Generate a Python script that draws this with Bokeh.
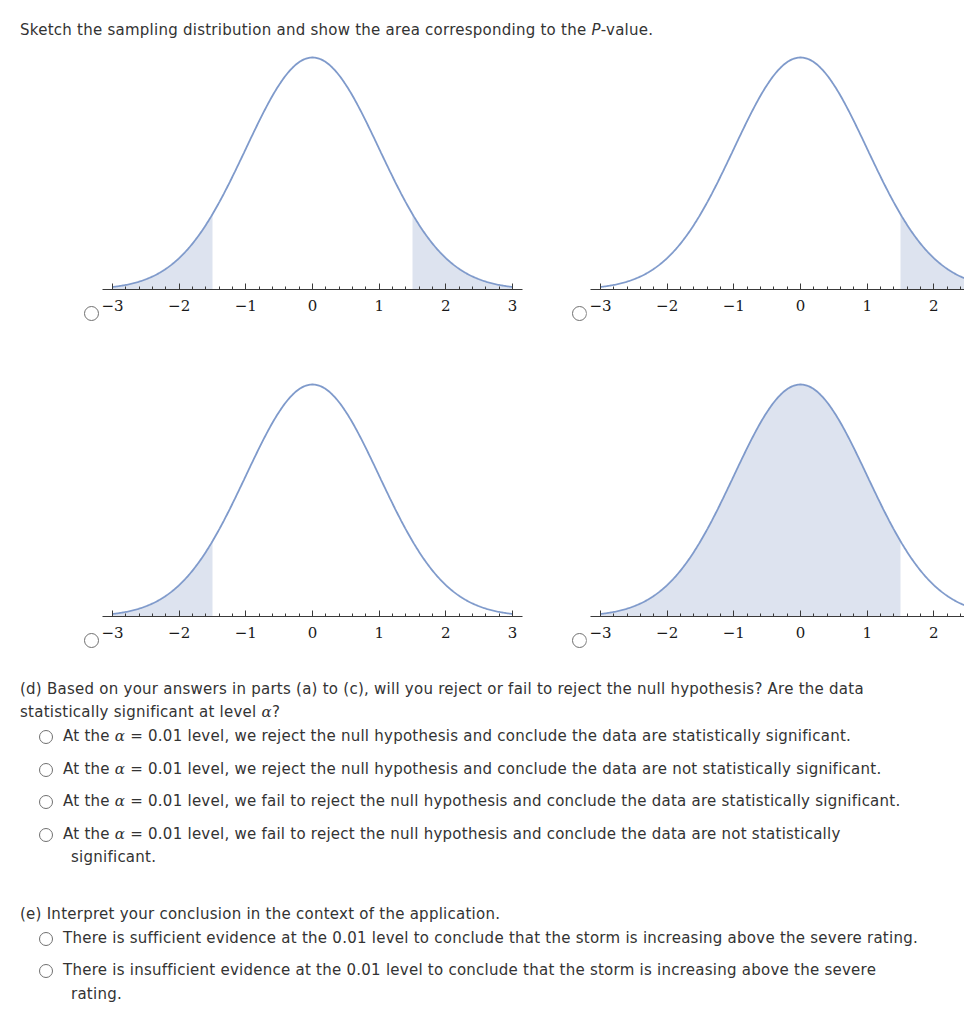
import numpy as np
from bokeh.plotting import figure
from bokeh.layouts import row, column
from bokeh.models import Div, FixedTicker, Range1d, ColumnDataSource
from bokeh.embed import file_html
from bokeh.resources import INLINE

# ---------------- data ----------------
z_stat = 1.5
tick_values = [-3, -2, -1, 0, 1, 2, 3]
tick_labels = ["\u22123", "\u22122", "\u22121", "0", "1", "2", "3"]
minor_tick_values = [-3.0, -2.8, -2.6, -2.4, -2.2, -2.0, -1.8, -1.6, -1.4, -1.2,
                     -1.0, -0.8, -0.6, -0.4, -0.2, 0.0, 0.2, 0.4, 0.6, 0.8,
                     1.0, 1.2, 1.4, 1.6, 1.8, 2.0, 2.2, 2.4, 2.6, 2.8, 3.0]
curve_lo, curve_hi = -3.0, 3.0
# shaded regions (start, end) for the four answer choices
shade_a = [(-3.0, -z_stat), (z_stat, 3.0)]
shade_b = [(z_stat, 3.0)]
shade_c = [(-3.0, -z_stat)]
shade_d = [(-3.0, z_stat)]

header_text = "Sketch the sampling distribution and show the area corresponding to the <i>P</i>-value."
ALPHA = "<i style=\"font-family:'DejaVu Serif';\">\u03b1</i>"
d_lines = ["(d) Based on your answers in parts (a) to (c), will you reject or fail to reject the null hypothesis? Are the data",
           "statistically significant at level " + ALPHA + "?"]
d_options = [
    ["At the " + ALPHA + " = 0.01 level, we reject the null hypothesis and conclude the data are statistically significant."],
    ["At the " + ALPHA + " = 0.01 level, we reject the null hypothesis and conclude the data are not statistically significant."],
    ["At the " + ALPHA + " = 0.01 level, we fail to reject the null hypothesis and conclude the data are statistically significant."],
    ["At the " + ALPHA + " = 0.01 level, we fail to reject the null hypothesis and conclude the data are not statistically",
     "significant."],
]
e_lines = ["(e) Interpret your conclusion in the context of the application."]
e_options = [
    ["There is sufficient evidence at the 0.01 level to conclude that the storm is increasing above the severe rating."],
    ["There is insufficient evidence at the 0.01 level to conclude that the storm is increasing above the severe",
     "rating."],
]

# ---------------- styles ----------------
CURVE = "#7f9acb"
SHADE = "#dde3ef"
AXIS = "#3a3a3a"
TEXT = "#333333"
FONT = "'DejaVu Sans', Verdana, sans-serif"
FS = "15px"
LS = "0.25px"
FRAME_H = 239
BOTTOM = 45
Y_TOP = 0.411


def norm_pdf(x):
    return np.exp(-0.5 * x * x) / np.sqrt(2 * np.pi)


def panel(x_start, x_end, width, top_border, shades):
    p = figure(width=width, height=top_border + FRAME_H + BOTTOM,
               x_range=Range1d(x_start, x_end), y_range=Range1d(0, Y_TOP),
               output_backend="svg", toolbar_location=None, y_axis_location=None,
               min_border=0, min_border_top=top_border, min_border_bottom=BOTTOM,
               min_border_left=0, min_border_right=0)
    p.outline_line_color = None
    p.grid.visible = False
    p.background_fill_color = "white"
    p.border_fill_color = "white"
    for lo, hi in shades:
        xs = np.linspace(lo, hi, 200)
        src = ColumnDataSource(dict(x=xs, y=norm_pdf(xs), y0=np.zeros_like(xs)))
        p.varea(x="x", y1="y0", y2="y", source=src, fill_color=SHADE, fill_alpha=1.0)
    xs = np.linspace(curve_lo, curve_hi, 400)
    p.line(xs, norm_pdf(xs), line_color=CURVE, line_width=1.8)
    ax = p.xaxis[0]
    ax.ticker = FixedTicker(ticks=tick_values, minor_ticks=minor_tick_values)
    ax.major_label_overrides = {v: l for v, l in zip(tick_values, tick_labels)}
    ax.bounds = (-3.15, 3.15)
    ax.axis_line_color = AXIS
    ax.axis_line_width = 1.2
    ax.major_tick_line_color = AXIS
    ax.minor_tick_line_color = AXIS
    ax.major_tick_in = 6
    ax.major_tick_out = 0
    ax.minor_tick_in = 3
    ax.minor_tick_out = 0
    ax.major_label_standoff = 10
    ax.major_label_text_font = "DejaVu Serif"
    ax.major_label_text_font_size = "15px"
    ax.major_label_text_color = "#1a1a1a"
    return p


def radio_html(left, top, d=15):
    return (f'<div style="position:absolute;left:{left}px;top:{top}px;width:{d}px;height:{d}px;'
            f'border:1px solid #707070;border-radius:50%;box-sizing:border-box;background:#fff;"></div>')


def radio_div(width, height, left, top):
    html = f'<div style="position:relative;width:{width}px;height:{height}px;">{radio_html(left, top)}</div>'
    return Div(text=html, width=width, height=height, margin=0)


def line_html(left, top, content):
    return (f'<div style="position:absolute;left:{left}px;top:{top}px;white-space:nowrap;'
            f'line-height:20px;font-family:{FONT};font-size:{FS};letter-spacing:{LS};color:{TEXT};">{content}</div>')


PAGE_W = 964
# header
header = Div(text=f'<div style="position:relative;width:{PAGE_W}px;height:50px;">{line_html(20, 20, header_text)}</div>',
             width=PAGE_W, height=50, margin=0)

# plots rows
LW, RW = 441, 378
L0, L1 = (99 - 312) / 66.67, (540 - 312) / 66.67
R0, R1 = (586 - 800) / 66.67, (964 - 800) / 66.67

pa = panel(L0, L1, LW, 0, shade_a)
pb = panel(R0, R1, RW, 0, shade_b)
pc = panel(L0, L1, LW, 43, shade_c)
pd = panel(R0, R1, RW, 43, shade_d)

h1 = 0 + FRAME_H + BOTTOM
h2 = 43 + FRAME_H + BOTTOM
row1 = row(radio_div(99, h1, 84, 256), pa, radio_div(46, h1, 32, 256), pb, spacing=0)
row2 = row(radio_div(99, h2, 84, 299), pc, radio_div(46, h2, 32, 299), pd, spacing=0)

# bottom text
parts = []
X0 = 20
parts.append(line_html(X0, 18, d_lines[0]))
parts.append(line_html(X0, 41, d_lines[1]))
opt_tops = [65, 98, 130, 163]
for top, opt in zip(opt_tops, d_options):
    parts.append(radio_html(39, top + 4, 14))
    parts.append(line_html(63, top, opt[0]))
    if len(opt) > 1:
        parts.append(line_html(71, top + 23, opt[1]))
parts.append(line_html(X0, 243, e_lines[0]))
for top, opt in zip([267, 299], e_options):
    parts.append(radio_html(39, top + 4, 14))
    parts.append(line_html(63, top, opt[0]))
    if len(opt) > 1:
        parts.append(line_html(71, top + 24, opt[1]))

text_div = Div(text=f'<div style="position:relative;width:{PAGE_W}px;height:363px;">{"".join(parts)}</div>',
               width=PAGE_W, height=363, margin=0)

layout = column(header, row1, row2, text_div, spacing=0)

open("out.html", "w").write(file_html(layout, INLINE))
